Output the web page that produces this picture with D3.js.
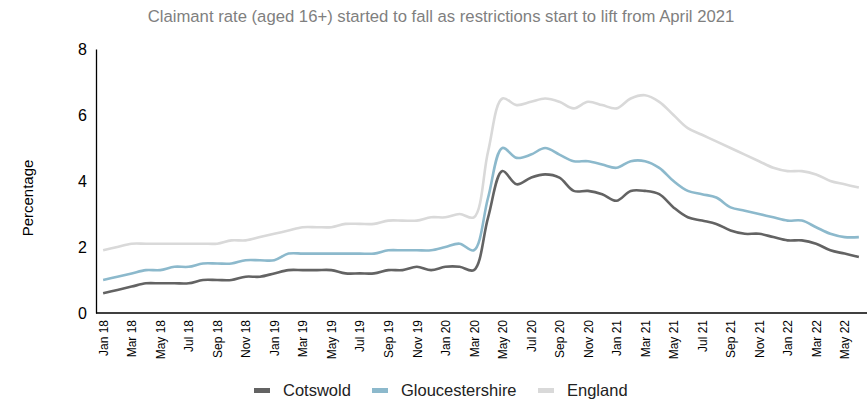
<!DOCTYPE html>
<html>
<head>
<meta charset="utf-8">
<script src="https://cdn.jsdelivr.net/npm/d3@7"></script>
<style>
body{margin:0;background:#fff;font-family:"Liberation Sans",Arial,sans-serif}
</style>
</head>
<body>
<div id="chart"></div>
<script>
var w = 867
var h = 400

var months = ["Jan 18","Feb 18","Mar 18","Apr 18","May 18","Jun 18","Jul 18","Aug 18","Sep 18","Oct 18","Nov 18","Dec 18",
    "Jan 19","Feb 19","Mar 19","Apr 19","May 19","Jun 19","Jul 19","Aug 19","Sep 19","Oct 19","Nov 19","Dec 19",
    "Jan 20","Feb 20","Mar 20","Apr 20","May 20","Jun 20","Jul 20","Aug 20","Sep 20","Oct 20","Nov 20","Dec 20",
    "Jan 21","Feb 21","Mar 21","Apr 21","May 21","Jun 21","Jul 21","Aug 21","Sep 21","Oct 21","Nov 21","Dec 21",
    "Jan 22","Feb 22","Mar 22","Apr 22","May 22","Jun 22"]

var cotswold = [0.6,0.7,0.8,0.9,0.9,0.9,0.9,1.0,1.0,1.0,1.1,1.1,
    1.2,1.3,1.3,1.3,1.3,1.2,1.2,1.2,1.3,1.3,1.4,1.3,
    1.4,1.4,1.3,2.9,4.3,3.9,4.1,4.2,4.1,3.7,3.7,3.6,
    3.4,3.7,3.7,3.6,3.2,2.9,2.8,2.7,2.5,2.4,2.4,2.3,
    2.2,2.2,2.1,1.9,1.8,1.7]

var gloucestershire = [1.0,1.1,1.2,1.3,1.3,1.4,1.4,1.5,1.5,1.5,1.6,1.6,
    1.6,1.8,1.8,1.8,1.8,1.8,1.8,1.8,1.9,1.9,1.9,1.9,
    2.0,2.1,1.9,3.5,5.0,4.7,4.8,5.0,4.8,4.6,4.6,4.5,
    4.4,4.6,4.6,4.4,4.0,3.7,3.6,3.5,3.2,3.1,3.0,2.9,
    2.8,2.8,2.6,2.4,2.3,2.3]

var england = [1.9,2.0,2.1,2.1,2.1,2.1,2.1,2.1,2.1,2.2,2.2,2.3,
    2.4,2.5,2.6,2.6,2.6,2.7,2.7,2.7,2.8,2.8,2.8,2.9,
    2.9,3.0,2.9,4.9,6.5,6.3,6.4,6.5,6.4,6.2,6.4,6.3,
    6.2,6.5,6.6,6.4,6.0,5.6,5.4,5.2,5.0,4.8,4.6,4.4,
    4.3,4.3,4.2,4.0,3.9,3.8]

var seriesNames = ["Cotswold","Gloucestershire","England"]
var seriesColors = ["#636363","#8cb9cc","#d9d9d9"]
var yTicks = [0,2,4,6,8]

var margin = {top:49, right:1, bottom:87, left:96}

var svg = d3.select("#chart").append("svg").attr("width", w).attr("height", h)

var x = d3.scalePoint().domain(months).range([margin.left, w-margin.right]).padding(0.5)
var y = d3.scaleLinear().domain([0,8]).range([h-margin.bottom, margin.top])

svg.append("text")
    .attr("x", 441).attr("y", 22)
    .attr("text-anchor","middle")
    .attr("font-size","16.7px")
    .attr("fill","#7f7f7f")
    .text("Claimant rate (aged 16+) started to fall as restrictions start to lift from April 2021")

svg.append("text")
    .attr("transform","translate(33,198) rotate(-90)")
    .attr("text-anchor","middle")
    .attr("font-size","15px")
    .attr("fill","#000")
    .text("Percentage")

var series = [cotswold, gloucestershire, england]
var line = d3.line()
    .x(function(d,i){return x(months[i])})
    .y(function(d){return y(d)})
    .curve(d3.curveCatmullRom)

// England first so the darker lines sit on top
for(var s = series.length-1; s>=0; s--){
    svg.append("path")
        .datum(series[s])
        .attr("fill","none")
        .attr("stroke", seriesColors[s])
        .attr("stroke-width", 2.6)
        .attr("d", line)
}

var yAxis = svg.append("g")
    .attr("transform","translate("+margin.left+",0)")
    .call(d3.axisLeft(y).tickValues(yTicks).tickSize(0).tickPadding(9))
yAxis.select(".domain").attr("stroke","#000").attr("stroke-width",1.3)
yAxis.selectAll("text").attr("font-size","16px").attr("font-family","Liberation Sans, Arial, sans-serif").attr("fill","#000")

var xTicks = months.filter(function(d,i){return i%2==0})
var xAxis = svg.append("g")
    .attr("transform","translate(0,"+(h-margin.bottom)+")")
    .call(d3.axisBottom(x).tickValues(xTicks).tickSize(0).tickSizeOuter(0))
xAxis.select(".domain").attr("stroke","#000").attr("stroke-width",1.3)
    .attr("d","M"+margin.left+",0H"+w)
xAxis.selectAll("text")
    .attr("font-size","12px")
    .attr("font-family","Liberation Sans, Arial, sans-serif")
    .attr("fill","#000")
    .attr("transform","rotate(-90)")
    .attr("text-anchor","end")
    .attr("x",-7)
    .attr("y",0)
    .attr("dy","0.35em")

var legendX = [254, 372, 538]
var legend = svg.append("g")
seriesNames.forEach(function(name,i){
    legend.append("rect")
        .attr("x", legendX[i]).attr("y", 388)
        .attr("width", 16).attr("height", 5)
        .attr("fill", seriesColors[i])
    legend.append("text")
        .attr("x", legendX[i]+29).attr("y", 396)
        .attr("font-size","16.5px")
        .attr("fill","#222")
        .text(name)
})
</script>
</body>
</html>
